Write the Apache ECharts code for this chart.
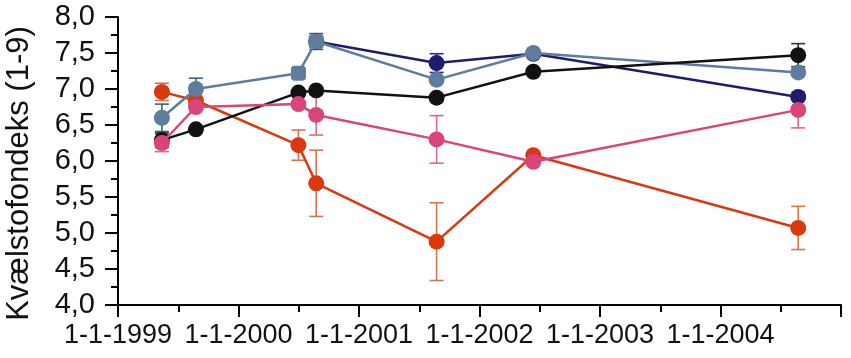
<!DOCTYPE html>
<html>
<head>
<meta charset="utf-8">
<script src="https://cdn.jsdelivr.net/npm/echarts@6/dist/echarts.min.js"></script>
<style>
html,body{margin:0;padding:0;background:#fff;}
#chart{width:851px;height:358px;}
</style>
</head>
<body>
<div id="chart"></div>
<script>
// Sampling dates
const dates = ['1999-05-14','1999-08-25','2000-07-01','2000-08-24','2001-08-24','2002-06-13','2004-08-24'];
const navyDates = ['2000-08-24','2001-08-24','2002-06-13','2004-08-24'];
// Series values (index 1-9)
const redVals   = [6.96, 6.84, 6.22, 5.69, 4.88, 6.08, 5.07];
const pinkVals  = [6.25, 6.75, 6.79, 6.64, 6.30, 5.99, 6.71];
const slateVals = [6.60, 7.00, 7.22, 7.66, 7.13, 7.50, 7.23];
const blackVals = [6.29, 6.44, 6.95, 6.98, 6.88, 7.24, 7.47];
const navyVals  = [7.66, 7.36, 7.49, 6.89];
// Error (± half-width)
const redErr   = [0.12, 0, 0.21, 0.46, 0.54, 0, 0.30];
const pinkErr  = [0.12, 0, 0, 0.28, 0.33, 0, 0.25];
const slateErr = [0.19, 0.15, 0, 0.11, 0, 0, 0];
const blackErr = [0.10, 0, 0, 0, 0, 0, 0.16];
const navyErr  = [0, 0.13, 0, 0];
const slateSymbols = ['circle','circle','roundRect','roundRect','circle','circle','circle'];
// Axis
const xTickYears = [1999, 2000, 2001, 2002, 2003, 2004, 2005];
const yTitle = 'Kvælstofondeks (1-9)';

function decYear(s){
  const d = new Date(s + 'T00:00:00Z');
  const y = d.getUTCFullYear();
  const a = Date.UTC(y,0,1), b = Date.UTC(y+1,0,1);
  return y + (d.getTime()-a)/(b-a);
}
function pairs(ds, vs){ return ds.map((d,i)=>[decYear(d), vs[i]]); }
function errData(ds, vs, es){
  const out = [];
  ds.forEach((d,i)=>{ if(es[i]>0) out.push([decYear(d), vs[i]-es[i], vs[i]+es[i]]); });
  return out;
}
function errSeries(ds, vs, es, color){
  return {
    type:'custom', z:1, silent:true,
    data: errData(ds, vs, es),
    renderItem: function(params, api){
      const x = api.value(0);
      const lo = api.coord([x, api.value(1)]);
      const hi = api.coord([x, api.value(2)]);
      const hw = 7;
      const st = {stroke: color, lineWidth: 1.6};
      return {type:'group', children:[
        {type:'line', shape:{x1:lo[0], y1:lo[1], x2:hi[0], y2:hi[1]}, style:st},
        {type:'line', shape:{x1:lo[0]-hw, y1:lo[1], x2:lo[0]+hw, y2:lo[1]}, style:st},
        {type:'line', shape:{x1:hi[0]-hw, y1:hi[1], x2:hi[0]+hw, y2:hi[1]}, style:st}
      ]};
    }
  };
}
function lineSeries(data, color, z){
  return {
    type:'line', z:z, data:data, symbol:'circle', symbolSize:16,
    lineStyle:{color:color, width:2.5}, itemStyle:{color:color},
    animation:false
  };
}

const red='#d8390f', pink='#d9447a', slate='#5e7d9e', black='#111111', navy='#1d1c6e';

const slateData = pairs(dates, slateVals).map((p,i)=>({value:p, symbol:slateSymbols[i], symbolSize: slateSymbols[i]==='roundRect'?15:16}));

const chart = echarts.init(document.getElementById('chart'), null, {renderer:'canvas'});
chart.setOption({
  animation:false,
  backgroundColor:'#ffffff',
  grid:{left:118, right:10, top:17, bottom:53, containLabel:false, outerBoundsMode:'none'},
  xAxis:{
    type:'value', min:xTickYears[0], max:xTickYears[xTickYears.length-1], interval:1,
    axisLine:{show:true, onZero:false, lineStyle:{color:'#000', width:2}},
    axisTick:{show:true, length:12, lineStyle:{color:'#000', width:2}},
    minorTick:{show:true, splitNumber:2, length:7, lineStyle:{color:'#000', width:2}},
    splitLine:{show:false},
    axisLabel:{
      margin:17, color:'#111', fontFamily:'Liberation Sans, Arial, sans-serif', fontSize:27,
      formatter:function(v){ return v < xTickYears[xTickYears.length-1] ? '1-1-' + v : ''; }
    }
  },
  yAxis:{
    type:'value', min:4, max:8, interval:0.5,
    name:yTitle, nameLocation:'middle', nameGap:83,
    nameTextStyle:{color:'#111', fontFamily:'Liberation Sans, Arial, sans-serif', fontSize:31, padding:[0,25,0,0]},
    axisLine:{show:true, lineStyle:{color:'#000', width:2}},
    axisTick:{show:true, length:13, lineStyle:{color:'#000', width:2}},
    minorTick:{show:true, splitNumber:2, length:7, lineStyle:{color:'#000', width:2}},
    splitLine:{show:false},
    axisLabel:{
      margin:23, color:'#111', fontFamily:'Liberation Sans, Arial, sans-serif', fontSize:29,
      formatter:function(v){ return v.toFixed(1).replace('.', ','); }
    }
  },
  series:[
    errSeries(dates, redVals, redErr, '#d27650'),
    errSeries(dates, pinkVals, pinkErr, '#d86a8c'),
    errSeries(dates, slateVals, slateErr, '#3f5f80'),
    errSeries(dates, blackVals, blackErr, '#333333'),
    errSeries(navyDates, navyVals, navyErr, '#2a2a78'),
    lineSeries(pairs(dates, redVals), red, 2),
    lineSeries(pairs(navyDates, navyVals), navy, 3),
    lineSeries(slateData, slate, 4),
    lineSeries(pairs(dates, blackVals), black, 5),
    lineSeries(pairs(dates, pinkVals), pink, 6)
  ]
});
</script>
</body>
</html>
